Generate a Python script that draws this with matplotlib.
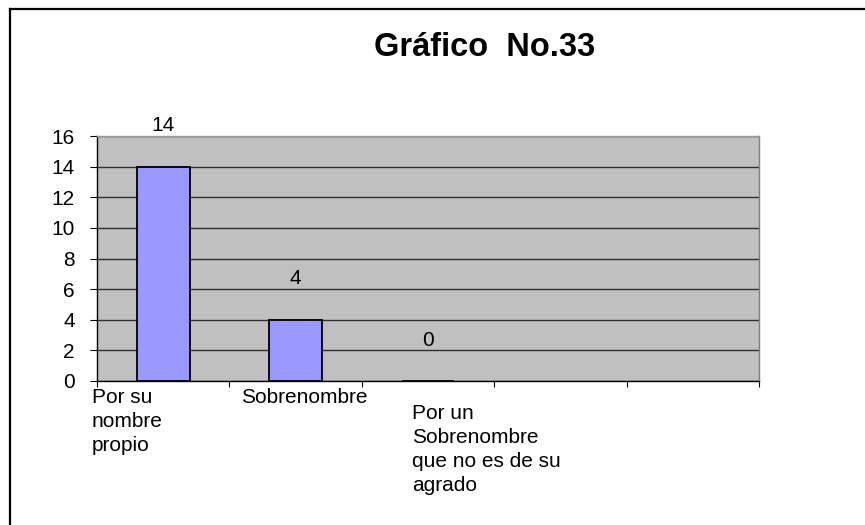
import numpy as np
import matplotlib.pyplot as plt
from matplotlib.lines import Line2D

# datos del grafico
categorias = ['Por su\nnombre\npropio', 'Sobrenombre',
              'Por un\nSobrenombre\nque no es de su\nagrado']
valores = [14, 4, 0]
n_slots = 5          # el eje tiene 5 huecos, solo 3 con datos
titulo = 'Gráfico  No.33'

plt.rcParams['font.family'] = ['Liberation Sans', 'DejaVu Sans']

fig = plt.figure(figsize=(8.65, 5.25), dpi=100)
ax = fig.add_axes([97 / 865, 1 - 381 / 525, 662 / 865, 245 / 525])
ax.set_facecolor('#C0C0C0')

x = np.arange(len(valores)) + 0.5
ax.bar(x, valores, width=0.4, color='#9999FF', edgecolor='black', linewidth=1.3, zorder=3)

# etiqueta de valor encima de cada barra
for xi, v in zip(x, valores):
    ax.annotate(str(v), (xi, v), xytext=(0, 29.5), textcoords='offset points',
                ha='center', va='center', fontsize=15)

ax.set_xlim(0, n_slots)
ax.set_ylim(0, 16)
ax.set_yticks(np.arange(0, 17, 2))
ax.set_xticks(np.arange(0, n_slots + 1))
ax.set_xticklabels([])
ax.yaxis.grid(True, color='#303030', linewidth=1.0, zorder=1)
ax.set_axisbelow(True)
ax.tick_params(axis='y', length=5, width=0.8, pad=11, labelsize=15)
ax.tick_params(axis='x', length=4, width=0.8, direction='out')

ax.spines['left'].set_color('black')
ax.spines['bottom'].set_color('black')
ax.spines['top'].set_color('#9A9A9A')
ax.spines['right'].set_color('#808080')
for s in ax.spines.values():
    s.set_linewidth(1.0)
    s.set_zorder(4)

# rotulos de categoria alineados a la izquierda (el tercero escalonado)
desp_x = [-0.54, -0.41, -0.12]
pos_y = [-0.028, -0.028, -0.094]
for xi, lab, dx, py in zip(x, categorias, desp_x, pos_y):
    ax.text(xi + dx, py, lab, transform=ax.get_xaxis_transform(),
            ha='left', va='top', fontsize=15, linespacing=1.33)

fig.text(484.5 / 865, 1 - 47 / 525, titulo, ha='center', va='center',
         fontsize=23.5, fontweight='bold')

# marco del area del grafico
fig.add_artist(Line2D([10 / 865, 1], [1 - 9 / 525, 1 - 9 / 525],
                      transform=fig.transFigure, color='black', linewidth=1.6))
fig.add_artist(Line2D([10 / 865, 10 / 865], [0, 1 - 9 / 525],
                      transform=fig.transFigure, color='black', linewidth=1.6))

fig.savefig('out.png', dpi=100)
